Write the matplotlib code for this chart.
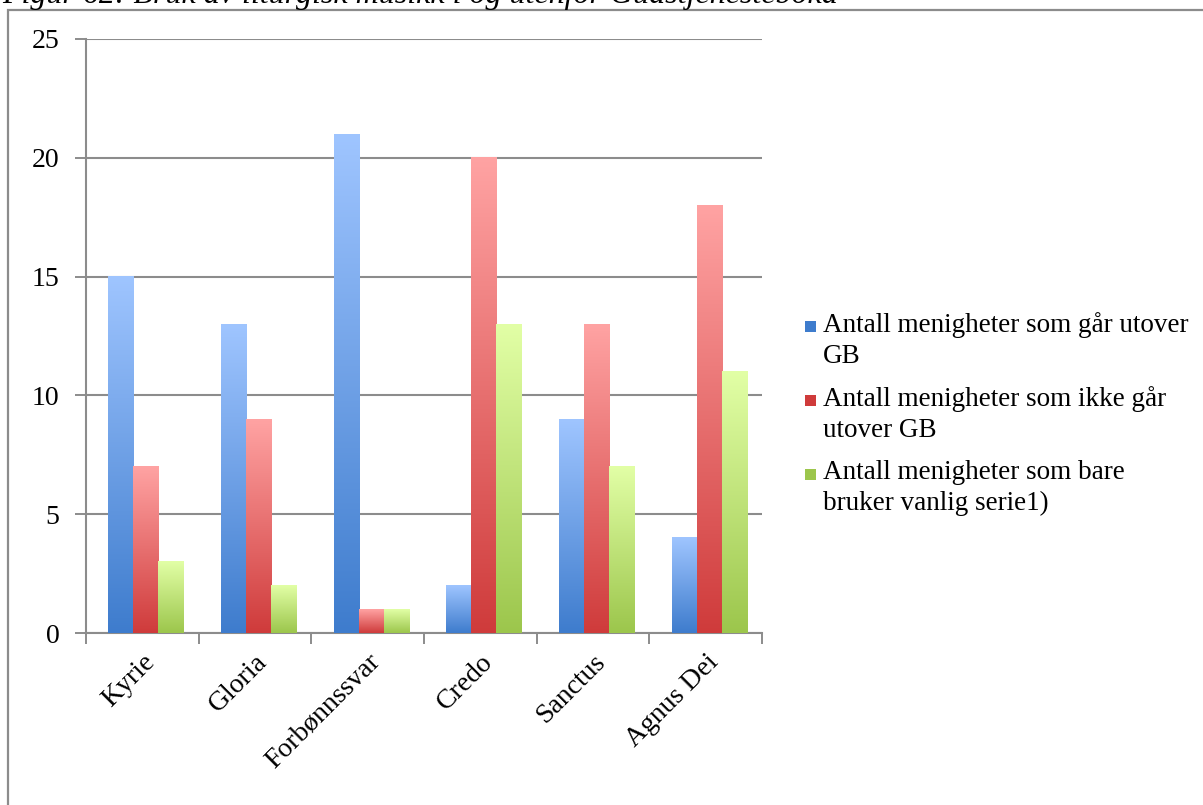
import numpy as np
import matplotlib
matplotlib.use("Agg")
import matplotlib.pyplot as plt
from matplotlib.colors import LinearSegmentedColormap
from matplotlib.patches import Rectangle

# Data
categories = ["Kyrie", "Gloria", "Forbønnssvar", "Credo", "Sanctus", "Agnus Dei"]
series_names = [
    "Antall menigheter som går utover\nGB",
    "Antall menigheter som ikke går\nutover GB",
    "Antall menigheter som bare\nbruker vanlig serie1)",
]
gar_utover = [15, 13, 21, 2, 9, 4]
ikke_utover = [7, 9, 1, 20, 13, 18]
bare_vanlig = [3, 2, 1, 13, 7, 11]
values = [gar_utover, ikke_utover, bare_vanlig]
yticks = [0, 5, 10, 15, 20, 25]

# light top -> dark bottom for each series
gradients = [
    ("#9fc5ff", "#3e7ccd"),
    ("#ffa3a3", "#cf3b3b"),
    ("#e2ffa6", "#9cc64c"),
]
W, H = 1203, 805

plt.rcParams["font.family"] = ["Liberation Serif", "DejaVu Serif"]

fig = plt.figure(figsize=(W / 100, H / 100), dpi=100)

# caption line, cut off at the top of the page
fig.text(2 / W, 1 - 3 / H,
         "Figur 62: Bruk av liturgisk musikk i og utenfor Gudstjenesteboka",
         fontsize=23, style="italic", ha="left", va="baseline")

# outer frame
fig.patches.append(Rectangle((8 / W, -0.05), 1.1, 1 - 10 / H + 0.05,
                             transform=fig.transFigure, fill=False,
                             edgecolor="#8c8c8c", linewidth=1.6))

ax = fig.add_axes([86 / W, 172 / H, 676 / W, 594 / H])

x = np.arange(len(categories))
bw = 0.222
shift = 0.03
grad = np.linspace(1, 0, 256).reshape(-1, 1)

for i, (vals, (top, bottom)) in enumerate(zip(values, gradients)):
    cmap = LinearSegmentedColormap.from_list(f"s{i}", [bottom, top])
    for xi, v in zip(x, vals):
        x0 = xi + (i - 1.5) * bw + shift
        ax.imshow(grad, cmap=cmap, extent=[x0, x0 + bw, 0, v],
                  aspect="auto", zorder=3, interpolation="bicubic")

ax.set_xlim(-0.5, len(categories) - 0.5)
ax.set_ylim(0, 25)

ax.set_yticks(yticks)
ax.tick_params(axis="y", length=8, width=1.4, color="#8c8c8c",
               labelsize=20, pad=11)
ax.yaxis.grid(True, color="#8c8c8c", linewidth=1.5, zorder=0)
ax.set_axisbelow(True)

# category boundaries get the tick marks, labels sit at the centres
ax.set_xticks(np.arange(len(categories) + 1) - 0.5)
ax.set_xticklabels([])
ax.tick_params(axis="x", length=8, width=1.4, color="#8c8c8c")
ax.set_xticks(x, minor=True)
ax.set_xticklabels(categories, minor=True, rotation=45, ha="right",
                   rotation_mode="anchor", fontsize=20)
ax.tick_params(axis="x", which="minor", length=0, pad=12)

for side in ["top", "right"]:
    ax.spines[side].set_visible(False)
for side in ["left", "bottom"]:
    ax.spines[side].set_color("#8c8c8c")
    ax.spines[side].set_linewidth(1.5)

# legend: square swatch beside the first line of each label
entry_tops = [312, 386, 460]
for name, (top, bottom), ty in zip(series_names, gradients, entry_tops):
    fig.patches.append(Rectangle((805 / W, 1 - (ty + 20) / H), 11 / W, 11 / H,
                                 transform=fig.transFigure,
                                 facecolor=bottom, edgecolor="none"))
    fig.text(823 / W, 1 - ty / H, name, fontsize=19.5, ha="left", va="top",
             linespacing=1.3)

fig.savefig("out.png", dpi=100)
